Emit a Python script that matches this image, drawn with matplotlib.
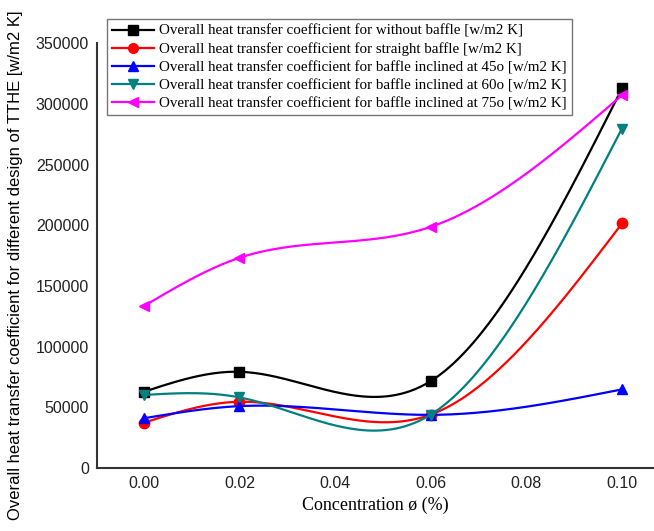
import numpy as np
from matplotlib import pyplot as plt

# concentration values (%)
conc = [0.00, 0.02, 0.06, 0.10]

# overall heat transfer coefficient [w/m2 K]
without_baffle = [62800, 79300, 71600, 312700]
straight_baffle = [37300, 54600, 44000, 201500]
inclined_45 = [41000, 51000, 43800, 64800]
inclined_60 = [60200, 58200, 44000, 279700]
inclined_75 = [133400, 173200, 198700, 307200]

labels = [
    'Overall heat transfer coefficient for without baffle [w/m2 K]',
    'Overall heat transfer coefficient for straight baffle [w/m2 K]',
    'Overall heat transfer coefficient for baffle inclined at 45o [w/m2 K]',
    'Overall heat transfer coefficient for baffle inclined at 60o [w/m2 K]',
    'Overall heat transfer coefficient for baffle inclined at 75o [w/m2 K]',
]


def natural_spline(x, y, n=200):
    # natural cubic spline through the points, only for drawing a smooth line
    x = np.asarray(x, float)
    y = np.asarray(y, float)
    k = len(x)
    h = np.diff(x)
    A = np.zeros((k, k))
    b = np.zeros(k)
    A[0, 0] = A[-1, -1] = 1
    for i in range(1, k - 1):
        A[i, i - 1] = h[i - 1]
        A[i, i] = 2 * (h[i - 1] + h[i])
        A[i, i + 1] = h[i]
        b[i] = 3 * ((y[i + 1] - y[i]) / h[i] - (y[i] - y[i - 1]) / h[i - 1])
    c = np.linalg.solve(A, b)
    xs = np.linspace(x[0], x[-1], n)
    idx = np.clip(np.searchsorted(x, xs) - 1, 0, k - 2)
    dx = xs - x[idx]
    bb = (y[1:] - y[:-1]) / h - h * (2 * c[:-1] + c[1:]) / 3
    d = (c[1:] - c[:-1]) / (3 * h)
    ys = y[idx] + bb[idx] * dx + c[idx] * dx**2 + d[idx] * dx**3
    return xs, ys


fig = plt.figure(figsize=(6.54, 5.31), dpi=100)
ax = fig.add_axes([0.149, 0.1186, 0.851, 0.800])

series = [without_baffle, straight_baffle, inclined_45, inclined_60, inclined_75]
colors = ['black', 'red', 'blue', '#008080', '#ff00ff']
markers = ['s', 'o', '^', 'v', '<']

for vals, col, mk, lab in zip(series, colors, markers, labels):
    xs, ys = natural_spline(conc, vals)
    ax.plot(xs, ys, color=col, lw=1.6)
    ax.plot(conc, vals, color=col, marker=mk, ms=7.5, ls='none')
    ax.plot([], [], color=col, marker=mk, ms=7, lw=1.6, label=lab)

ax.set_xlim(-0.0097, 0.1067)
ax.set_ylim(0, 350000)
ax.set_xticks([0.00, 0.02, 0.04, 0.06, 0.08, 0.10])
ax.set_xticklabels(['0.00', '0.02', '0.04', '0.06', '0.08', '0.10'])
ax.set_yticks(range(0, 350001, 50000))
ax.tick_params(length=0, labelsize=11.5, colors='#222222', pad=6)
for t in ax.get_xticklabels() + ax.get_yticklabels():
    t.set_family('Liberation Sans')

for s in ['top', 'right']:
    ax.spines[s].set_visible(False)
for s in ['left', 'bottom']:
    ax.spines[s].set_color('#333333')
    ax.spines[s].set_linewidth(1.5)

ax.set_xlabel('Concentration ø (%)', family='Liberation Serif', fontsize=13, labelpad=4)
ax.set_ylabel('Overall heat transfer coefficient for different design of TTHE [w/m2 K]',
              family='Liberation Sans', fontsize=12)
ax.yaxis.set_label_coords(-0.134, 0.478)

leg = ax.legend(loc='upper left', bbox_to_anchor=(107 / 654, 1 - 19 / 531),
                bbox_transform=fig.transFigure, borderaxespad=0, fancybox=False,
                edgecolor='#777777', framealpha=1, handlelength=2.8,
                labelspacing=0.3, handletextpad=0.3, borderpad=0.35,
                prop={'family': 'Liberation Serif', 'size': 10.8})
leg.get_frame().set_linewidth(1.0)

plt.savefig('out.png', dpi=100)
